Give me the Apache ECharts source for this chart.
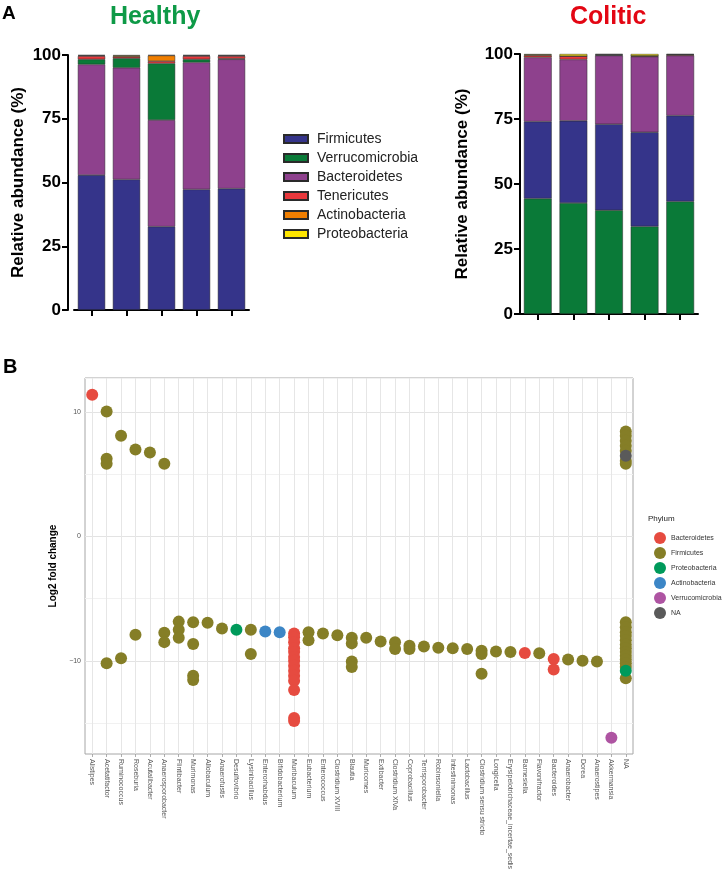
<!DOCTYPE html>
<html>
<head>
<meta charset="utf-8">
<script src="https://cdn.jsdelivr.net/npm/echarts@6/dist/echarts.min.js"></script>
<style>
html,body{margin:0;padding:0;background:#fff;}
#chart{width:722px;height:882px;}
</style>
</head>
<body>
<div id="chart"></div>
<script>
// ---------- Panel A data (relative abundance %, per sample) ----------
const healthySamples = ['H1','H2','H3','H4','H5'];
const colitisSamples = ['C1','C2','C3','C4','C5'];
const phylaA = ['Firmicutes','Verrucomicrobia','Bacteroidetes','Tenericutes','Actinobacteria','Proteobacteria'];

const healthyFirmicutes      = [52.9, 51.2, 32.7, 47.3, 47.6];
const healthyBacteroidetes   = [43.4, 43.8, 41.8, 49.8, 50.7];
const healthyVerrucomicrobia = [2.0, 3.7, 22.2, 1.2, 0.3];
const healthyTenericutes     = [1.3, 0.6, 0.9, 1.3, 1.0];
const healthyActinobacteria  = [0.2, 0.4, 2.2, 0.2, 0.2];
const healthyProteobacteria  = [0.2, 0.3, 0.2, 0.2, 0.2];

const colitisVerrucomicrobia = [44.4, 42.7, 39.9, 33.7, 43.3];
const colitisFirmicutes      = [29.6, 31.6, 33.1, 36.2, 33.0];
const colitisBacteroidetes   = [24.7, 23.6, 26.4, 29.1, 23.1];
const colitisTenericutes     = [0.7, 1.3, 0.2, 0.3, 0.3];
const colitisActinobacteria  = [0.3, 0.0, 0.2, 0.0, 0.1];
const colitisProteobacteria  = [0.3, 0.8, 0.2, 0.7, 0.2];

const yTicksA = [0, 25, 50, 75, 100];

// ---------- Panel B data (log2 fold change per genus) ----------
const genera = ['Alistipes','Acetatifactor','Ruminococcus','Roseburia','Acutalibacter','Anaerosporobacter',
  'Flintibacter','Murimonas','Allobaculum','Anaerofustis','Desulfovibrio','Lysinibacillus','Enterorhabdus',
  'Bifidobacterium','Muribaculum','Eubacterium','Enterococcus','Clostridium XVIII','Blautia','Muricomes',
  'Extibacter','Clostridium XlVa','Coprobacillus','Terrisporobacter','Robinsoniella','Intestinimonas',
  'Lactobacillus','Clostridium sensu stricto','Longicella','Erysipelotrichaceae_incertae_sedis','Barnesiella',
  'Flavonifractor','Bacteroides','Anaerobacter','Dorea','Anaerostipes','Akkermansia','NA'];

const bacteroidetesPts = [
  ['Alistipes', 11.4],
  ['Muribaculum', -7.8], ['Muribaculum', -8.1], ['Muribaculum', -8.5], ['Muribaculum', -9.0],
  ['Muribaculum', -9.3], ['Muribaculum', -9.7], ['Muribaculum', -10.0], ['Muribaculum', -10.4],
  ['Muribaculum', -10.8], ['Muribaculum', -11.2], ['Muribaculum', -11.6], ['Muribaculum', -12.35],
  ['Muribaculum', -14.6], ['Muribaculum', -14.85],
  ['Barnesiella', -9.37],
  ['Bacteroides', -9.85], ['Bacteroides', -10.7]
];
const firmicutesPts = [
  ['Acetatifactor', 10.05], ['Acetatifactor', 6.25], ['Acetatifactor', 5.85], ['Acetatifactor', -10.2],
  ['Ruminococcus', 8.1], ['Ruminococcus', -9.8],
  ['Roseburia', 7.0], ['Roseburia', -7.9],
  ['Acutalibacter', 6.75],
  ['Anaerosporobacter', 5.85], ['Anaerosporobacter', -7.75], ['Anaerosporobacter', -8.5],
  ['Flintibacter', -6.85], ['Flintibacter', -7.5], ['Flintibacter', -8.15],
  ['Murimonas', -6.9], ['Murimonas', -8.65], ['Murimonas', -11.2], ['Murimonas', -11.55],
  ['Allobaculum', -6.95],
  ['Anaerofustis', -7.4],
  ['Lysinibacillus', -7.5], ['Lysinibacillus', -9.45],
  ['Eubacterium', -7.7], ['Eubacterium', -8.35],
  ['Enterococcus', -7.8],
  ['Clostridium XVIII', -7.95],
  ['Blautia', -8.15], ['Blautia', -8.6], ['Blautia', -10.05], ['Blautia', -10.5],
  ['Muricomes', -8.15],
  ['Extibacter', -8.45],
  ['Clostridium XlVa', -8.5], ['Clostridium XlVa', -9.05],
  ['Coprobacillus', -8.8], ['Coprobacillus', -9.05],
  ['Terrisporobacter', -8.85],
  ['Robinsoniella', -8.95],
  ['Intestinimonas', -9.0],
  ['Lactobacillus', -9.05],
  ['Clostridium sensu stricto', -9.2], ['Clostridium sensu stricto', -9.45], ['Clostridium sensu stricto', -11.05],
  ['Longicella', -9.25],
  ['Erysipelotrichaceae_incertae_sedis', -9.3],
  ['Flavonifractor', -9.4],
  ['Anaerobacter', -9.9],
  ['Dorea', -10.0],
  ['Anaerostipes', -10.05],
  ['NA', 8.45], ['NA', 8.1], ['NA', 7.7], ['NA', 7.3], ['NA', 6.9], ['NA', 6.1], ['NA', 5.85],
  ['NA', -6.9], ['NA', -7.3], ['NA', -7.7], ['NA', -8.0], ['NA', -8.35], ['NA', -8.7], ['NA', -9.0],
  ['NA', -9.3], ['NA', -9.6], ['NA', -9.9], ['NA', -10.2], ['NA', -10.5], ['NA', -11.4]
];
const proteobacteriaPts = [['Desulfovibrio', -7.5], ['NA', -10.8]];
const actinobacteriaPts = [['Enterorhabdus', -7.65], ['Bifidobacterium', -7.7]];
const verrucomicrobiaPts = [['Akkermansia', -16.2]];
const naPhylumPts = [['NA', 6.5]];

const yTicksB = [-10, 0, 10];

// ---------- styles ----------
const FONT = 'Liberation Sans, Arial, Helvetica, sans-serif';
const colA = {
  Firmicutes: '#35348A', Verrucomicrobia: '#0A7A38', Bacteroidetes: '#8E418D',
  Tenericutes: '#E8383C', Actinobacteria: '#F07E00', Proteobacteria: '#FFE600'
};
const colB = {
  Bacteroidetes: '#E64B40', Firmicutes: '#857E27', Proteobacteria: '#009A5B',
  Actinobacteria: '#3C86C6', Verrucomicrobia: '#AE54A2', NA: '#5A5A5A'
};

function barSeries(name, data, xi, stack) {
  return {
    type: 'bar', name: name, data: data, stack: stack,
    xAxisIndex: xi, yAxisIndex: xi, barWidth: '78%',
    itemStyle: { color: colA[name], borderColor: '#2a2a2a', borderWidth: 0.5 },
    emphasis: { disabled: true }, animation: false
  };
}
function scatterSeries(phylum, pts) {
  return {
    type: 'scatter', name: 'p_' + phylum, data: pts,
    xAxisIndex: 2, yAxisIndex: 2, symbolSize: 12,
    itemStyle: { color: colB[phylum], opacity: 1 },
    emphasis: { disabled: true }, animation: false
  };
}

const yAxisA = (gi, offset, nameGap) => ({
  type: 'value', gridIndex: gi, min: 0, max: 100, interval: 25, offset: offset,
  name: 'Relative abundance (%)', nameLocation: 'middle', nameGap: nameGap,
  nameTextStyle: { fontFamily: FONT, fontSize: 17, fontWeight: 'bold', color: '#000' },
  axisLine: { show: true, lineStyle: { color: '#000', width: 2 } },
  axisTick: { show: true, length: 6, lineStyle: { color: '#000', width: 2 } },
  axisLabel: { fontFamily: FONT, fontSize: 17, fontWeight: 'bold', color: '#000', margin: 7,
    formatter: v => yTicksA.includes(v) ? String(v) : '' },
  splitLine: { show: false }
});
const xAxisA = (gi, data) => ({
  type: 'category', gridIndex: gi, data: data,
  axisLine: { show: true, onZero: false, lineStyle: { color: '#000', width: 2 } },
  axisTick: { show: true, alignWithLabel: true, length: 6, lineStyle: { color: '#000', width: 2 } },
  axisLabel: { show: false }, splitLine: { show: false }
});

const option = {
  animation: false,
  backgroundColor: '#fff',
  textStyle: { fontFamily: FONT },
  grid: [
    { left: 74, top: 55, width: 175, height: 255 },
    { left: 520, top: 54, width: 178, height: 260 },
    { left: 85, top: 378, width: 548, height: 376, show: true, borderColor: '#a6a6a6', borderWidth: 1, backgroundColor: '#fff' }
  ],
  xAxis: [
    xAxisA(0, healthySamples),
    xAxisA(1, colitisSamples),
    {
      type: 'category', gridIndex: 2, data: genera, boundaryGap: true,
      axisLine: { show: false, onZero: false },
      axisTick: { show: true, alignWithLabel: true, length: 3, lineStyle: { color: '#999', width: 0.8 } },
      axisLabel: { rotate: -90, interval: 0, fontFamily: FONT, fontSize: 7, color: '#555', margin: 5 },
      splitLine: { show: true, alignWithLabel: true, lineStyle: { color: '#e6e6e6', width: 1 } }
    }
  ],
  yAxis: [
    yAxisA(0, 6, 41),
    yAxisA(1, 0, 49),
    {
      type: 'value', gridIndex: 2, min: -17.5, max: 12.75, interval: 2.5,
      name: 'Log2 fold change', nameLocation: 'middle', nameGap: 16,
      nameTextStyle: { fontFamily: FONT, fontSize: 10, fontWeight: 'bold', color: '#000' },
      axisLine: { show: false }, axisTick: { show: false },
      axisLabel: { fontFamily: FONT, fontSize: 7, color: '#555', margin: 4,
        formatter: v => yTicksB.includes(v) ? (v < 0 ? '\u2212' + Math.abs(v) : String(v)) : '' },
      splitLine: { show: true, lineStyle: { width: 1, color: ['rgba(0,0,0,0)', '#f1f1f1', 'rgba(0,0,0,0)', '#e3e3e3'] } }
    }
  ],
  legend: [
    {
      data: phylaA, orient: 'vertical', left: 278, top: 127, itemWidth: 24, itemHeight: 8, itemGap: 5,
      icon: 'rect', selectedMode: false,
      textStyle: { fontFamily: FONT, fontSize: 14, color: '#222', padding: [0, 0, 0, 4] }
    },
    {
      data: ['p_Bacteroidetes','p_Firmicutes','p_Proteobacteria','p_Actinobacteria','p_Verrucomicrobia','p_NA'],
      orient: 'vertical', left: 649, top: 527, itemWidth: 12, itemHeight: 12, itemGap: 3,
      icon: 'circle', selectedMode: false,
      formatter: n => n.replace(/^p_/, ''),
      textStyle: { fontFamily: FONT, fontSize: 7, color: '#333' }
    }
  ],
  graphic: [
    { type: 'text', left: 2, top: 4, style: { text: 'A', font: 'bold 19px ' + FONT, fill: '#000' } },
    { type: 'text', left: 110, top: 5, style: { text: 'Healthy', font: 'bold 25px ' + FONT, fill: '#0E9A47' } },
    { type: 'text', left: 570, top: 5, style: { text: 'Colitic', font: 'bold 25px ' + FONT, fill: '#E30613' } },
    { type: 'text', left: 3, top: 357, style: { text: 'B', font: 'bold 20px ' + FONT, fill: '#000' } },
    { type: 'text', left: 648, top: 515, style: { text: 'Phylum', font: '8px ' + FONT, fill: '#222' } }
  ],
  series: [
    barSeries('Firmicutes', healthyFirmicutes, 0, 'h'),
    barSeries('Bacteroidetes', healthyBacteroidetes, 0, 'h'),
    barSeries('Verrucomicrobia', healthyVerrucomicrobia, 0, 'h'),
    barSeries('Tenericutes', healthyTenericutes, 0, 'h'),
    barSeries('Actinobacteria', healthyActinobacteria, 0, 'h'),
    barSeries('Proteobacteria', healthyProteobacteria, 0, 'h'),
    barSeries('Verrucomicrobia', colitisVerrucomicrobia, 1, 'c'),
    barSeries('Firmicutes', colitisFirmicutes, 1, 'c'),
    barSeries('Bacteroidetes', colitisBacteroidetes, 1, 'c'),
    barSeries('Tenericutes', colitisTenericutes, 1, 'c'),
    barSeries('Actinobacteria', colitisActinobacteria, 1, 'c'),
    barSeries('Proteobacteria', colitisProteobacteria, 1, 'c'),
    scatterSeries('Bacteroidetes', bacteroidetesPts),
    scatterSeries('Firmicutes', firmicutesPts),
    scatterSeries('Proteobacteria', proteobacteriaPts),
    scatterSeries('Actinobacteria', actinobacteriaPts),
    scatterSeries('Verrucomicrobia', verrucomicrobiaPts),
    scatterSeries('NA', naPhylumPts)
  ]
};
const chart = echarts.init(document.getElementById('chart'), null, { renderer: 'canvas' });
chart.setOption(option);
</script>
</body>
</html>
